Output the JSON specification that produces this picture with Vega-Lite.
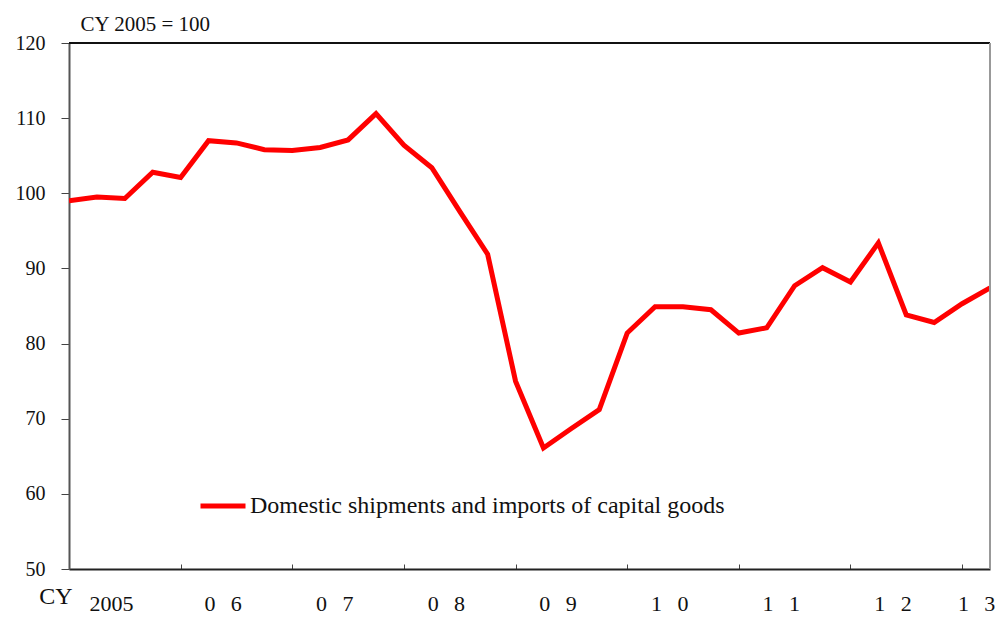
{
  "$schema": "https://vega.github.io/schema/vega-lite/v6.json",
  "width": 921,
  "height": 526,
  "autosize": {"type": "none"},
  "padding": {"left": 69, "top": 43, "right": 9, "bottom": 53},
  "background": "white",
  "config": {
    "view": {"stroke": null},
    "font": "Liberation Serif"
  },
  "layer": [
    {
      "data": {"values": [
        {"q": 0, "v": 99.0}, {"q": 1, "v": 99.5}, {"q": 2, "v": 99.3}, {"q": 3, "v": 102.8},
        {"q": 4, "v": 102.1}, {"q": 5, "v": 107.0}, {"q": 6, "v": 106.7}, {"q": 7, "v": 105.8},
        {"q": 8, "v": 105.7}, {"q": 9, "v": 106.1}, {"q": 10, "v": 107.1}, {"q": 11, "v": 110.6},
        {"q": 12, "v": 106.4}, {"q": 13, "v": 103.4}, {"q": 14, "v": 97.6}, {"q": 15, "v": 91.9},
        {"q": 16, "v": 75.0}, {"q": 17, "v": 66.1}, {"q": 18, "v": 68.7}, {"q": 19, "v": 71.2},
        {"q": 20, "v": 81.4}, {"q": 21, "v": 84.9}, {"q": 22, "v": 84.9}, {"q": 23, "v": 84.5},
        {"q": 24, "v": 81.4}, {"q": 25, "v": 82.1}, {"q": 26, "v": 87.7}, {"q": 27, "v": 90.1},
        {"q": 28, "v": 88.2}, {"q": 29, "v": 93.4}, {"q": 30, "v": 83.8}, {"q": 31, "v": 82.8},
        {"q": 32, "v": 85.3}, {"q": 33, "v": 87.4}
      ]},
      "transform": [{"calculate": "'Domestic shipments and imports of capital goods'", "as": "series"}],
      "mark": {"type": "line", "strokeWidth": 5, "strokeJoin": "miter", "clip": true},
      "encoding": {
        "x": {
          "field": "q", "type": "quantitative",
          "scale": {"domain": [0, 33], "nice": false, "zero": false},
          "axis": {
            "title": null,
            "values": [0, 4, 8, 12, 16, 20, 24, 28, 32],
            "grid": false,
            "domainColor": "#222222", "domainWidth": 2,
            "tickColor": "#444444", "tickSize": -5, "tickWidth": 1,
            "labelFont": "Liberation Serif", "labelFontSize": 22, "labelColor": "#111111",
            "labelPadding": 29,
            "labelFlush": false,
            "labelOverlap": false,
            "labelOffset": {"condition": {"test": "datum.value == 32", "value": 14}, "value": 42},
            "labelExpr": "datum.value == 0 ? '2005' : substring(toString(2005 + datum.value/4), 2, 3) + '\u2002\u2009' + substring(toString(2005 + datum.value/4), 3, 4)"
          }
        },
        "y": {
          "field": "v", "type": "quantitative",
          "scale": {"domain": [50, 120], "nice": false, "zero": false},
          "axis": {
            "title": "CY 2005 = 100",
            "titleAngle": 0, "titleAlign": "left", "titleBaseline": "alphabetic",
            "titleX": 11, "titleY": -13,
            "titleFont": "Liberation Serif", "titleFontSize": 21, "titleFontWeight": "normal", "titleColor": "#111111",
            "values": [50, 60, 70, 80, 90, 100, 110, 120],
            "grid": false,
            "domainColor": "#555555", "domainWidth": 2,
            "tickColor": "#444444", "tickSize": 8, "tickWidth": 1,
            "labelFont": "Liberation Serif", "labelFontSize": 20, "labelColor": "#111111",
            "labelPadding": 16
          }
        },
        "color": {
          "field": "series", "type": "nominal",
          "scale": {"range": ["#ff0000"]},
          "legend": {
            "title": null,
            "orient": "none", "legendX": 129, "legendY": 438,
            "symbolType": "stroke", "symbolSize": 2025, "symbolStrokeWidth": 5,
            "labelFont": "Liberation Serif", "labelFontSize": 24, "labelColor": "#111111",
            "labelOffset": 2, "labelLimit": 700
          }
        }
      }
    },
    {
      "data": {"values": [{"t": "CY", "x": 0, "y": 50}]},
      "mark": {"type": "text", "font": "Liberation Serif", "fontSize": 24, "color": "#111111", "align": "center", "baseline": "middle", "dx": -13, "dy": 28},
      "encoding": {
        "x": {"field": "x", "type": "quantitative"},
        "y": {"field": "y", "type": "quantitative"},
        "text": {"field": "t"}
      }
    },
    {
      "data": {"values": [{"a": 1}]},
      "mark": {"type": "rule", "color": "#111111", "strokeWidth": 2},
      "encoding": {"y": {"datum": 120}}
    },
    {
      "data": {"values": [{"a": 1}]},
      "mark": {"type": "rule", "color": "#999999", "strokeWidth": 2},
      "encoding": {"x": {"datum": 33}}
    }
  ]
}
